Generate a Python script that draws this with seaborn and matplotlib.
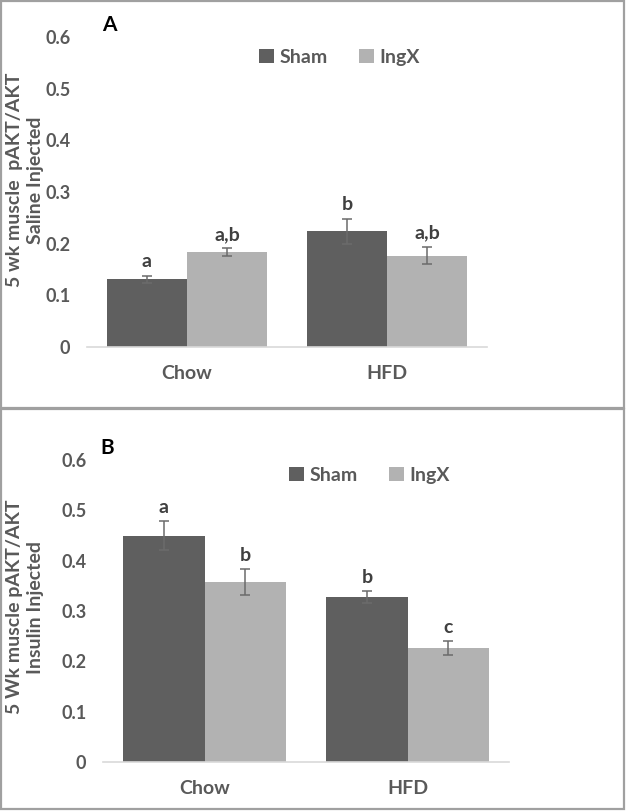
import matplotlib
matplotlib.use("Agg")
import matplotlib.pyplot as plt
import seaborn as sns
import pandas as pd
from matplotlib.patches import Rectangle

categories = ["Chow", "HFD"]
groups = ["Sham", "IngX"]

# Panel A (saline injected)
a_sham = [0.131, 0.224]
a_ingx = [0.184, 0.177]
a_sham_err = [0.007, 0.024]
a_ingx_err = [0.007, 0.017]
a_sham_letters = ["a", "b"]
a_ingx_letters = ["a,b", "a,b"]
a_ylabel = ["5 wk muscle  pAKT/AKT", "Saline Injected"]

# Panel B (insulin injected)
b_sham = [0.450, 0.327]
b_ingx = [0.357, 0.227]
b_sham_err = [0.028, 0.012]
b_ingx_err = [0.026, 0.014]
b_sham_letters = ["a", "b"]
b_ingx_letters = ["b", "c"]
b_ylabel = ["5 Wk muscle pAKT/AKT", "Insulin Injected"]

yticks = [0, 0.1, 0.2, 0.3, 0.4, 0.5, 0.6]
ytick_labels = ["0", "0.1", "0.2", "0.3", "0.4", "0.5", "0.6"]

sns.set_style("white")
plt.rcParams["font.family"] = ["Lato", "DejaVu Sans"]

TEXT = "#595959"
palette = {"Sham": "#5f5f5f", "IngX": "#b2b2b2"}
FS = 14

fig = plt.figure(figsize=(6.26, 8.11), dpi=100)
W, H = 626, 811


def px_axes(left, right, top, bottom):
    return fig.add_axes([left / W, 1 - bottom / H, (right - left) / W, (bottom - top) / H])


def draw_panel(ax, sham, ingx, sham_err, ingx_err, sham_let, ingx_let, ylabel_lines, ylabel_y,
               panel, panel_x, legend_anchor):
    df = pd.DataFrame({
        "cat": categories * 2,
        "group": ["Sham"] * 2 + ["IngX"] * 2,
        "value": list(sham) + list(ingx),
    })
    sns.barplot(data=df, x="cat", y="value", hue="group", hue_order=groups,
                order=categories, palette=palette, errorbar=None, width=0.8,
                saturation=1, ax=ax, legend=True, linewidth=0, gap=0)
    errs = [sham_err, ingx_err]
    lets = [sham_let, ingx_let]
    bar_conts = list(ax.containers)[:2]
    for ci, cont in enumerate(bar_conts):
        for bi, bar in enumerate(cont.patches):
            cx = bar.get_x() + bar.get_width() / 2
            h = bar.get_height()
            e = errs[ci][bi]
            ax.errorbar(cx, h, yerr=e, fmt="none", ecolor="#6b6b6b", elinewidth=1.1,
                        capsize=3.5, capthick=1.1, zorder=3)
            ax.text(cx, h + e + 0.027, lets[ci][bi], ha="center", va="center",
                    fontsize=FS, fontweight="bold", color="#404040")
    ax.set_xlim(-0.5, 1.5)
    ax.set_ylim(0, 0.6)
    ax.set_yticks(yticks)
    ax.set_yticklabels(ytick_labels)
    ax.set_xlabel("")
    ax.set_ylabel("")
    for s in ["top", "right", "left"]:
        ax.spines[s].set_visible(False)
    ax.spines["bottom"].set_color("#d9d9d9")
    ax.spines["bottom"].set_linewidth(1.2)
    ax.tick_params(axis="y", length=0, labelsize=13, labelcolor=TEXT, pad=12)
    ax.tick_params(axis="x", length=0, labelsize=FS, labelcolor=TEXT, pad=13)
    for lab in ax.get_xticklabels() + ax.get_yticklabels():
        lab.set_fontweight("bold")
    for xpx, line in zip([15, 35], ylabel_lines):
        fig.text(xpx / W, 1 - ylabel_y / H, line, rotation=90, ha="center", va="center",
                 fontsize=FS, fontweight="bold", color=TEXT)
    ax.text(panel_x, 1.04, panel, transform=ax.transAxes, fontsize=FS + 1,
            fontweight="bold", color="black", ha="center", va="center")
    leg = ax.legend(loc="center", bbox_to_anchor=legend_anchor, ncol=2, frameon=False,
                    handlelength=0.75, handleheight=0.75, handletextpad=0.3,
                    columnspacing=1.6, prop={"weight": "bold", "size": FS})
    for t in leg.get_texts():
        t.set_color(TEXT)


axA = px_axes(87, 487, 37, 347)
draw_panel(axA, a_sham, a_ingx, a_sham_err, a_ingx_err, a_sham_letters, a_ingx_letters,
           a_ylabel, 180, "A", 0.055, (0.632, 0.935))

axB = px_axes(103, 509, 460, 762)
draw_panel(axB, b_sham, b_ingx, b_sham_err, b_ingx_err, b_sham_letters, b_ingx_letters,
           b_ylabel, 607, "B", 0.01, (0.657, 0.95))

# panel borders
for (x0, y0, x1, y1) in [(1, 1, 624, 408), (1, 409, 624, 809)]:
    fig.add_artist(Rectangle((x0 / W, 1 - y1 / H), (x1 - x0) / W, (y1 - y0) / H,
                             transform=fig.transFigure, fill=False,
                             edgecolor="#a0a0a0", linewidth=1.6))

fig.savefig("out.png", dpi=100)
